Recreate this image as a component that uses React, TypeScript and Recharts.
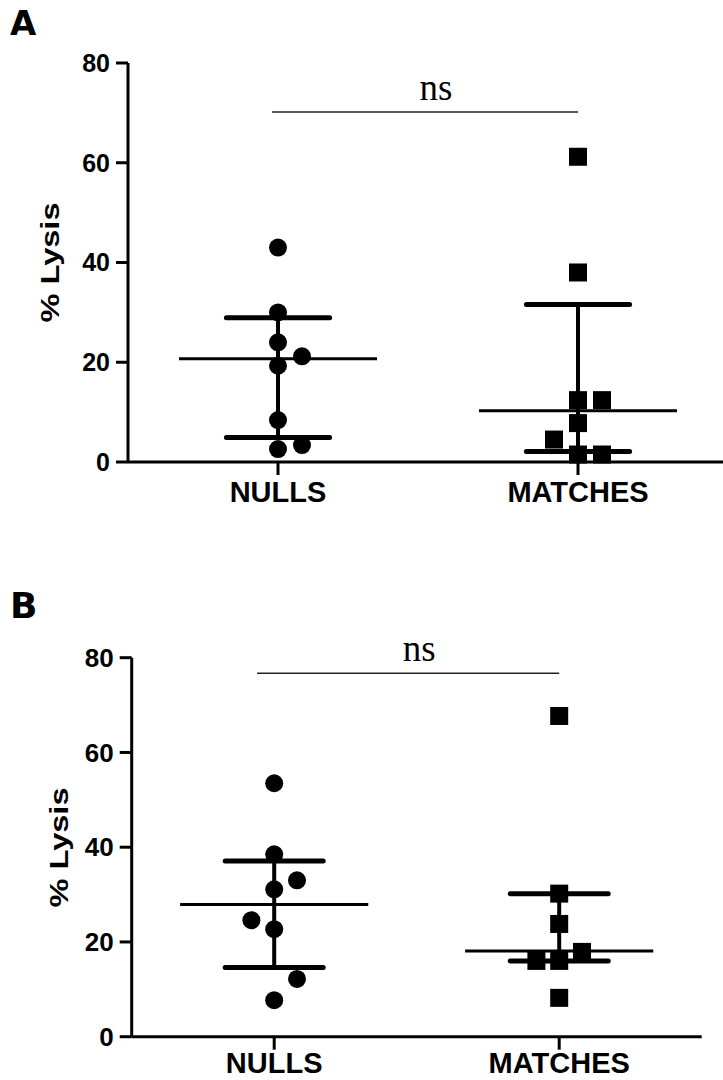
import React from "react"
import { ScatterChart, Scatter, XAxis, YAxis, ReferenceLine } from "recharts"

const groups = ["NULLS", "MATCHES"]
const yTicks = [0, 20, 40, 60, 80]
const jitterStep = 0.08

// panel A
const aNulls = [43.0, 30.0, 24.0, 21.2, 19.3, 8.4, 2.6, 3.4]
const aNullsJitter = [0, 0, 0, 1, 0, 0, 0, 1]
const aMatches = [61.2, 38.0, 12.4, 12.4, 7.8, 4.5, 1.5, 1.5]
const aMatchesJitter = [0, 0, 0, 1, 0, -1, 0, 1]
const aCenter = [20.7, 10.3]
const aLower = [4.9, 2.1]
const aUpper = [28.9, 31.6]
const aBracket = { from: 0.48, to: 1.5, y: 70.2, text: "ns" }

// panel B
const bNulls = [53.5, 38.5, 33.0, 31.1, 24.6, 22.7, 12.2, 7.7]
const bNullsJitter = [0, 0, 1, 0, -1, 0, 1, 0]
const bMatches = [67.7, 30.2, 23.8, 17.9, 16.0, 16.0, 8.2]
const bMatchesJitter = [0, 0, 0, 1, -1, 0, 0]
const bCenter = [27.9, 18.1]
const bLower = [14.6, 16.0]
const bUpper = [37.1, 30.2]
const bBracket = { from: 0.44, to: 1.5, y: 76.7, text: "ns" }

const meanHalf = 0.33
const capHalf = 0.172
const sansBold = { fontFamily: "'Liberation Sans', Arial, sans-serif", fontWeight: "bold" as const }

const toPoints = (vals: number[], jit: number[], group: number) =>
  vals.map((v, i) => ({ x: group + 0.5 + jit[i] * jitterStep, y: v }))

const Dot = (p: any) => <circle cx={p.cx} cy={p.cy} r={9} fill="#000" />
const Square = (p: any) => <rect x={p.cx - 9} y={p.cy - 9} width={18} height={18} fill="#000" />

type PanelProps = {
  width: number
  height: number
  margin: { top: number; right: number; bottom: number; left: number }
  yAxisWidth: number
  xAxisHeight: number
  xTickMargin: number
  labelX: number
  labelY: number
  tickFont: number
  nulls: number[]
  nullsJitter: number[]
  matches: number[]
  matchesJitter: number[]
  center: number[]
  lower: number[]
  upper: number[]
  bracket: { from: number; to: number; y: number; text: string }
}

function Panel(p: PanelProps) {
  return (
    <ScatterChart width={p.width} height={p.height} margin={p.margin}>
      <XAxis
        type="number"
        dataKey="x"
        domain={[0, 2]}
        ticks={[0.5, 1.5]}
        tickFormatter={(v: number) => groups[Math.floor(v)]}
        height={p.xAxisHeight}
        axisLine={{ stroke: "#000", strokeWidth: 3 }}
        tickLine={{ stroke: "#000", strokeWidth: 3 }}
        tickSize={13}
        tickMargin={p.xTickMargin}
        tick={{ fill: "#000", fontSize: 29, ...sansBold }}
      />
      <YAxis
        type="number"
        dataKey="y"
        domain={[0, 80]}
        ticks={yTicks}
        width={p.yAxisWidth}
        axisLine={{ stroke: "#000", strokeWidth: 3 }}
        tickLine={{ stroke: "#000", strokeWidth: 3 }}
        tickSize={12}
        tickMargin={6}
        tick={{ fill: "#000", fontSize: p.tickFont, ...sansBold }}
        label={{
          content: () => (
            <text
              x={p.labelX}
              y={p.labelY}
              transform={`rotate(-90 ${p.labelX} ${p.labelY})`}
              textAnchor="middle"
              dominantBaseline="central"
              fontSize={25}
              textLength={120}
              lengthAdjust="spacingAndGlyphs"
              fill="#000"
              {...sansBold}
            >
              % Lysis
            </text>
          )
        }}
      />
      <Scatter data={toPoints(p.nulls, p.nullsJitter, 0)} shape={Dot} isAnimationActive={false} />
      <Scatter data={toPoints(p.matches, p.matchesJitter, 1)} shape={Square} isAnimationActive={false} />
      {groups.map((g, i) => (
        <ReferenceLine
          key={g + "-mean"}
          segment={[{ x: i + 0.5 - meanHalf, y: p.center[i] }, { x: i + 0.5 + meanHalf, y: p.center[i] }]}
          stroke="#000"
          strokeWidth={3}
        />
      ))}
      {groups.map((g, i) => (
        <ReferenceLine
          key={g + "-bar"}
          segment={[{ x: i + 0.5, y: p.lower[i] }, { x: i + 0.5, y: p.upper[i] }]}
          stroke="#000"
          strokeWidth={4}
        />
      ))}
      {groups.map((g, i) => (
        <ReferenceLine
          key={g + "-hi"}
          segment={[{ x: i + 0.5 - capHalf, y: p.upper[i] }, { x: i + 0.5 + capHalf, y: p.upper[i] }]}
          stroke="#000"
          strokeWidth={5}
          strokeLinecap="round"
        />
      ))}
      {groups.map((g, i) => (
        <ReferenceLine
          key={g + "-lo"}
          segment={[{ x: i + 0.5 - capHalf, y: p.lower[i] }, { x: i + 0.5 + capHalf, y: p.lower[i] }]}
          stroke="#000"
          strokeWidth={5}
          strokeLinecap="round"
        />
      ))}
      <ReferenceLine
        segment={[{ x: p.bracket.from, y: p.bracket.y }, { x: p.bracket.to, y: p.bracket.y }]}
        stroke="#222"
        strokeWidth={1.5}
        label={{
          content: (lp: any) => {
            const vb = lp.viewBox || { x: 0, y: 0, width: 0 }
            return (
              <text
                x={vb.x + vb.width / 2 + 11}
                y={vb.y - 12}
                textAnchor="middle"
                fontSize={37}
                fontFamily="'Liberation Serif', 'Times New Roman', serif"
                fill="#000"
              >
                {p.bracket.text}
              </text>
            )
          }
        }}
      />
    </ScatterChart>
  )
}

const letterStyle: React.CSSProperties = {
  position: "absolute",
  left: 10,
  fontFamily: "'DejaVu Sans', Verdana, sans-serif",
  fontWeight: "bold",
  lineHeight: 1,
  color: "#000"
}

export default function App() {
  return (
    <div
      style={{
        position: "absolute",
        left: 0,
        top: 0,
        width: 723,
        height: 1080,
        overflow: "hidden",
        background: "#fff"
      }}
    >
      <div style={{ ...letterStyle, top: 6, fontSize: 34 }}>A</div>
      <div style={{ ...letterStyle, top: 588, fontSize: 36 }}>B</div>
      <div style={{ position: "absolute", left: 0, top: 0 }}>
        <Panel
          width={730}
          height={520}
          margin={{ top: 63, right: 2, bottom: 8, left: 0 }}
          yAxisWidth={128}
          xAxisHeight={50}
          xTickMargin={6}
          labelX={50}
          labelY={262.5}
          tickFont={25}
          nulls={aNulls}
          nullsJitter={aNullsJitter}
          matches={aMatches}
          matchesJitter={aMatchesJitter}
          center={aCenter}
          lower={aLower}
          upper={aUpper}
          bracket={aBracket}
        />
      </div>
      <div style={{ position: "absolute", left: 0, top: 600 }}>
        <Panel
          width={723}
          height={480}
          margin={{ top: 57.7, right: 21.3, bottom: 0, left: 0 }}
          yAxisWidth={131.7}
          xAxisHeight={43.3}
          xTickMargin={3}
          labelX={59}
          labelY={247.5}
          tickFont={26}
          nulls={bNulls}
          nullsJitter={bNullsJitter}
          matches={bMatches}
          matchesJitter={bMatchesJitter}
          center={bCenter}
          lower={bLower}
          upper={bUpper}
          bracket={bBracket}
        />
      </div>
    </div>
  )
}
